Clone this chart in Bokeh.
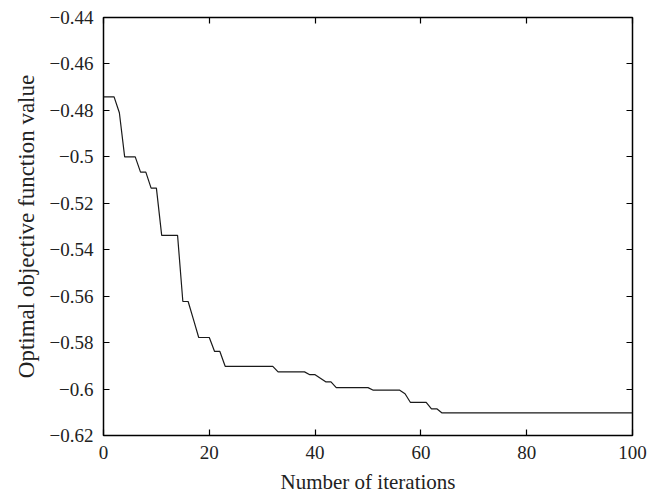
from bokeh.plotting import figure
from bokeh.models import LinearAxis, FixedTicker, CustomJSTickFormatter, Range1d
from bokeh.embed import file_html
from bokeh.resources import INLINE

iterations = list(range(0, 101))
objective = ([-0.4742, -0.4742, -0.4742, -0.4810, -0.5000, -0.5000, -0.5000,
              -0.5066, -0.5066, -0.5135, -0.5135, -0.5338, -0.5338, -0.5338,
              -0.5338, -0.5623, -0.5623, -0.5700, -0.5778, -0.5778, -0.5778,
              -0.5838, -0.5838]
             + [-0.5902] * 10
             + [-0.5926] * 6
             + [-0.5938, -0.5938, -0.5953, -0.5969, -0.5969]
             + [-0.5994] * 7
             + [-0.6005] * 6
             + [-0.6020, -0.6057, -0.6057, -0.6057, -0.6057, -0.6085, -0.6085]
             + [-0.6103] * 37)

x_ticks = [0, 20, 40, 60, 80, 100]
y_ticks = [-0.44, -0.46, -0.48, -0.50, -0.52, -0.54, -0.56, -0.58, -0.60, -0.62]

FONT = "Liberation Serif"

p = figure(width=660, height=496, output_backend="svg", toolbar_location=None,
           x_range=Range1d(0, 100), y_range=Range1d(-0.62, -0.44),
           min_border_left=103, min_border_right=28, min_border_top=17,
           min_border_bottom=60)

p.line(iterations, objective, line_color="#1a1a1a", line_width=1.2)

p.xgrid.visible = False
p.ygrid.visible = False
p.outline_line_color = "black"
p.outline_line_width = 1.5
p.background_fill_color = "white"
p.border_fill_color = "white"

fmt = CustomJSTickFormatter(code="""
    if (Math.abs(tick) < 1e-9) { return '0'; }
    var s = Math.abs(tick).toFixed(2).replace(/0+$/, '').replace(/\\.$/, '');
    return (tick < 0 ? '\\u2212' : '') + s;
""")

bottom = p.below[0]
left = p.left[0]
bottom.ticker = FixedTicker(ticks=x_ticks)
left.ticker = FixedTicker(ticks=y_ticks)
left.formatter = fmt
bottom.axis_label = "Number of iterations"
left.axis_label = "Optimal objective function value"

top = LinearAxis(ticker=FixedTicker(ticks=x_ticks), major_label_text_alpha=0,
                 major_label_text_font_size="1px")
right = LinearAxis(ticker=FixedTicker(ticks=y_ticks), major_label_text_alpha=0,
                   major_label_text_font_size="1px")
p.add_layout(top, "above")
p.add_layout(right, "right")

for ax in [bottom, left, top, right]:
    ax.axis_line_color = None
    ax.major_tick_in = 6
    ax.major_tick_out = 0
    ax.major_tick_line_color = "black"
    ax.major_tick_line_width = 1.2
    ax.minor_tick_line_color = None

for ax in [bottom, left]:
    ax.major_label_text_font = FONT
    ax.major_label_text_font_size = "19px"
    ax.major_label_text_color = "#222222"
    ax.axis_label_text_font = FONT
    ax.axis_label_text_font_style = "normal"
    ax.axis_label_text_color = "#222222"

bottom.axis_label_text_font_size = "21px"
left.axis_label_text_font_size = "23px"
bottom.major_label_standoff = 10
left.major_label_standoff = 10
bottom.axis_label_standoff = 8
left.axis_label_standoff = 8

open("out.html", "w").write(file_html(p, INLINE))
